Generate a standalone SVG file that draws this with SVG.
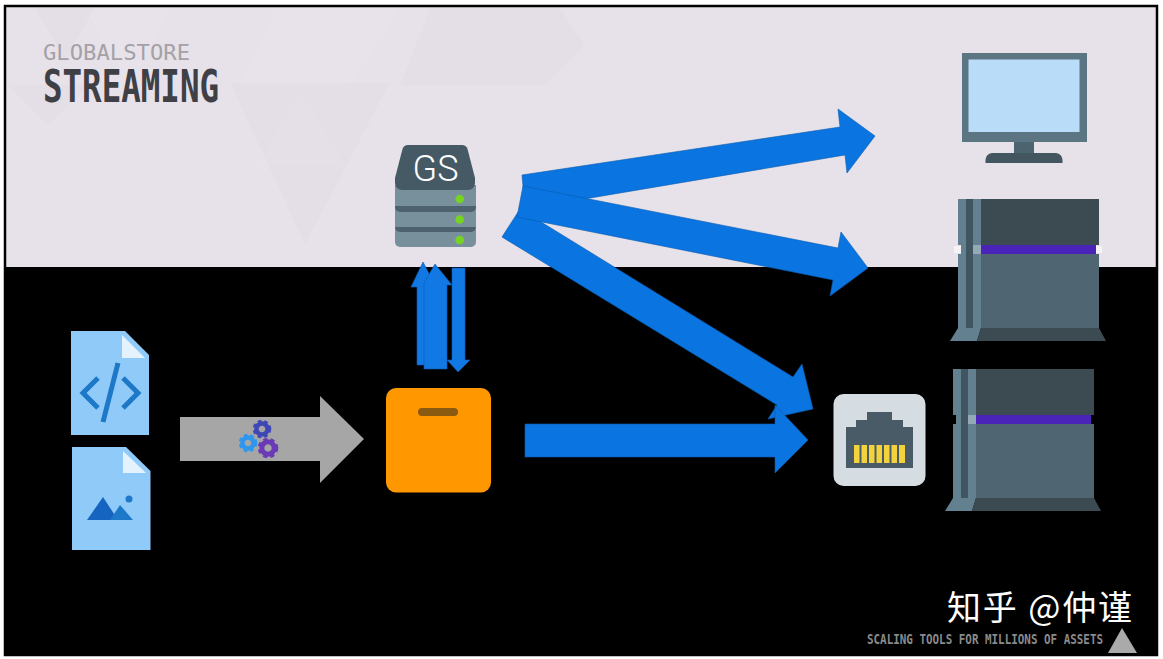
<svg xmlns="http://www.w3.org/2000/svg" width="1163" height="659" viewBox="0 0 1163 659">
<style>
.cjk{font-family:"Noto Sans CJK SC","Noto Sans CJK TC",sans-serif}
.tech{font-family:"DejaVu Sans Mono","Liberation Mono",monospace}
.blue{fill:#0a74e0;stroke:#0a5cb0;stroke-width:.6}
.up{fill:#1278e4;stroke:#0a5cb0;stroke-width:.6}
.gshaft{fill:#78909c}
.gsep{fill:#4d626e}
.led{fill:#76d321}
.tri{fill:#fff;opacity:.07}
.tri2{fill:#000;opacity:.012}
.pin{fill:#f2d33c}
</style>
<defs>
<g id="console">
<rect x="958" y="199" width="23" height="46" fill="#62808f"/>
<rect x="958" y="254" width="23" height="74" fill="#62808f"/>
<rect x="961" y="245" width="20" height="9" fill="#62808f"/>
<rect x="973" y="245" width="8" height="9" fill="#93a9b5"/>
<rect x="966" y="199" width="7" height="129" fill="#40555f"/>
<rect x="981" y="199" width="118" height="46" fill="#3c4b52"/>
<rect x="981" y="245" width="115" height="9" fill="#4a23b8"/>
<rect x="981" y="254" width="118" height="74" fill="#4f6672"/>
<polygon points="950,341 958,328 981,328 977,341" fill="#62808f"/>
<polygon points="981,328 1099,328 1106,341 977,341" fill="#3c4b52"/>
</g>
<g id="gear" fill="none">
<circle r="6.200" stroke-width="5"/>
<circle r="8.800" stroke-width="3" stroke-dasharray="4 3.3"/>
</g>
</defs>
<rect width="1163" height="659" fill="#fff"/>
<g id="background">
<rect x="5" y="6" width="1152" height="261" fill="#e7e1e9"/>
<polygon class="tri2" points="230,83 390,83 305,245"/>
<polygon class="tri2" points="430,8 560,8 585,45 545,85 400,85"/>
<polygon class="tri2" points="8,85 90,85 48,125"/>
<polygon class="tri2" points="35,8 95,8 65,60"/>
<polygon class="tri" points="85,8 170,8 130,85"/>
<polygon class="tri" points="260,165 300,90 345,165"/>
<polygon class="tri" points="240,85 280,8 400,8 350,85"/>
<rect x="5" y="267" width="1152" height="388" fill="#000"/>
<rect x="5" y="6" width="1152" height="649" fill="none" stroke="#000" stroke-width="2.500"/>
</g>
<g id="title">
<text class="tech" x="43" y="60" font-size="22" fill="#a3a1a6" textLength="147" lengthAdjust="spacingAndGlyphs">GLOBALSTORE</text>
<text class="tech" x="43" y="102" font-size="44" font-weight="700" fill="#3f4045" textLength="176" lengthAdjust="spacingAndGlyphs">STREAMING</text>
</g>
<g id="connectors">
<polygon class="up" points="417,365 417,287 411,287 423,262 436,287 430,287 430,365"/>
<polygon class="up" points="424,369 424,283 435,264 452,285 447,285 447,369"/>
<polygon class="up" points="452,268 465,268 465,360 470,360 458,372 447,360 452,360"/>
<polygon class="blue" points="522,175 840,127 838,109 875,136 847,173 845,155 525,209"/>
<polygon class="blue" points="520,209 793,377 802,364 813,409 768,419 777,405 502,237"/>
<polygon class="blue" points="523,186 838,248 841,232 868,268 830,296 833,280 517,217"/>
<polygon class="blue" points="525,424 775,424 775,405 808,440 775,473 775,457 525,457"/>
<polygon points="180,417 320,417 320,396 364,439 320,483 320,461 180,461" fill="#a6a6a6"/>
</g>
<g id="monitor">
<rect x="962" y="53" width="125" height="89" fill="#5b7583"/>
<rect x="968.500" y="59.500" width="111" height="72.500" fill="#b9dcf9"/>
<rect x="1014" y="142" width="20" height="12" fill="#4c6470"/>
<path d="M985.500 163v-3a7 7 0 0 1 7-7h63a7 7 0 0 1 7 7v3z" fill="#44565f"/>
</g>
<g id="console-top">
<rect x="954" y="246" width="7" height="7" fill="#f6f3f7"/>
<rect x="1096" y="246" width="6" height="7" fill="#f6f3f7"/>
<use href="#console"/>
</g>
<g id="console-bottom"><use href="#console" x="-5" y="170"/></g>
<g id="ethernet">
<rect x="833.500" y="394" width="92" height="92" rx="10" fill="#d5dde2"/>
<path d="M846 468V427H856V420H867V412H892V420H903V427H913V468Z" fill="#4a5b68"/>
<rect class="pin" x="854" y="445" width="5.500" height="18"/>
<rect class="pin" x="861.500" y="445" width="5.500" height="18"/>
<rect class="pin" x="869" y="445" width="5.500" height="18"/>
<rect class="pin" x="876.500" y="445" width="5.500" height="18"/>
<rect class="pin" x="884" y="445" width="5.500" height="18"/>
<rect class="pin" x="891.500" y="445" width="5.500" height="18"/>
<rect class="pin" x="899" y="445" width="6" height="18"/>
</g>
<g id="file-code">
<polygon points="71,331 125,331 149,355 149,435 71,435" fill="#90caf9"/>
<polygon points="122,335 145,358 122,358" fill="#e3f2fd"/>
<g fill="none" stroke="#1e78c8" stroke-width="5">
<path d="M98 378L83 393L98 408"/>
<path d="M123 378L138 393L123 408"/>
<path d="M118 363L103 422"/>
</g>
</g>
<g id="file-image">
<polygon points="72,447 126,447 150.500,471 150.500,550 72,550" fill="#90caf9"/>
<polygon points="123,451 146,473 123,473" fill="#e3f2fd"/>
<polygon points="87,520 103,497 118,520" fill="#1565c0"/>
<polygon points="110,520 120,505 133,520" fill="#1e78c8"/>
<circle cx="129" cy="499" r="3.500" fill="#1e78c8"/>
</g>
<g id="gears">
<use href="#gear" x="248" y="443" stroke="#2f96ee" transform="translate(24.800 44.300) scale(.9)"/>
<use href="#gear" x="262" y="429" stroke="#3f47b5" transform="translate(26.200 42.900) scale(.9)"/>
<use href="#gear" x="268" y="448" stroke="#6a3ab7"/>
</g>
<g id="package">
<rect x="386" y="388" width="105" height="104.500" rx="10" fill="#ff9800"/>
<rect x="418" y="408" width="40" height="8" rx="4" fill="#8a5a10"/>
</g>
<g id="server">
<rect class="gshaft" x="395" y="225" width="81" height="22" rx="5"/>
<rect class="gsep" x="395" y="220" width="81" height="12" rx="5"/>
<rect class="gshaft" x="395" y="205" width="81" height="22"/>
<rect class="gsep" x="395" y="200" width="81" height="12" rx="5"/>
<rect class="gshaft" x="395" y="185" width="81" height="21"/>
<path d="M408 145H462a6 6 0 0 1 5.500 4L475 178V183a7 7 0 0 1-7 7H402a7 7 0 0 1-7-7V178L402.500 149a6 6 0 0 1 5.500-4Z" fill="#455a64"/>
<circle class="led" cx="459.700" cy="199" r="4.300"/>
<circle class="led" cx="459.700" cy="219.500" r="4.300"/>
<circle class="led" cx="459.700" cy="240" r="4.300"/>
<text x="412.500" y="181" font-size="37" font-family="Roboto,sans-serif" font-weight="300" fill="#fff" textLength="46" lengthAdjust="spacingAndGlyphs">GS</text>
</g>
<g id="footer">
<text class="tech" x="867" y="644" font-size="13.500" font-weight="700" fill="#8a8a8a" textLength="236" lengthAdjust="spacingAndGlyphs">SCALING TOOLS FOR MILLIONS OF ASSETS</text>
<polygon points="1108,653 1122,628 1137,653" fill="#aaa"/>
<text class="cjk" x="947" y="620" font-size="34" fill="#fff" textLength="185" lengthAdjust="spacing">知乎 @仲谨</text>
</g>
</svg>
